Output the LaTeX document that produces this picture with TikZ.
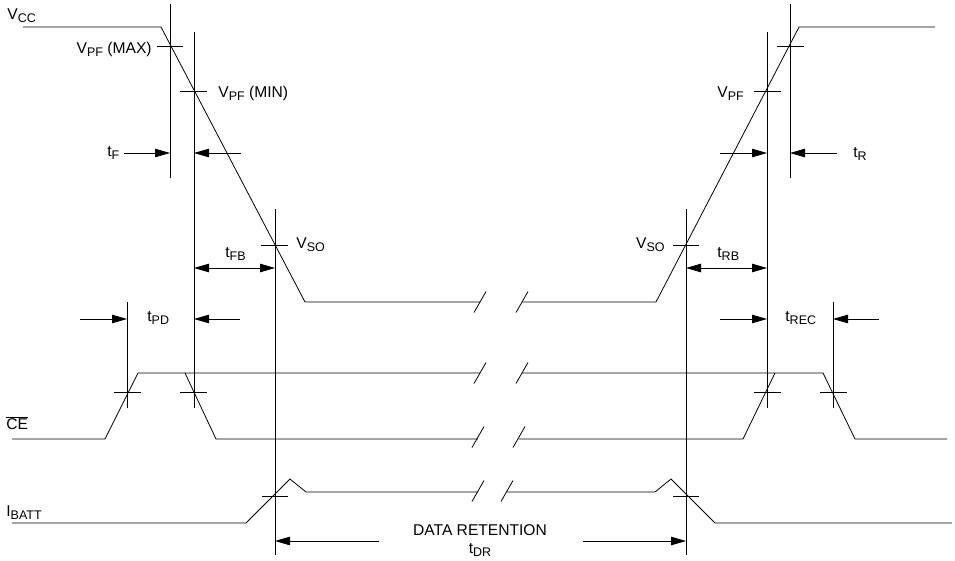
\documentclass[tikz,border=0pt]{standalone}
\usepackage{fontspec}
\setmainfont{Liberation Sans}
\usepackage{tikz}
\usetikzlibrary{arrows.meta, positioning}

\newcommand{\lsub}[2]{#1\raisebox{-3.5pt}{\fontsize{12.5}{13}\selectfont #2}}

\begin{document}
\begin{tikzpicture}[x=1pt, y=-1pt, line width=0.8pt,
  lbl/.style={inner sep=0pt, font=\fontsize{15.6}{17}\selectfont},
  dim/.style={-{Triangle[length=15pt, width=8.5pt]}},
  dimb/.style={{Triangle[length=15pt, width=8.5pt]}-{Triangle[length=15pt, width=8.5pt]}}]
  \useasboundingbox (0,0) rectangle (955,560);

  % waveforms
  \draw (23,27) -- (161,27) -- (305,302) -- (480,302);
  \draw (522,302) -- (656,302) -- (799,27) -- (935,27);
  \draw (12,439) -- (105,439) -- (138,373) -- (480,373);
  \draw (185,373) -- (216,439) -- (478,439);
  \draw (522,373) -- (823,373) -- (855,439) -- (947,439);
  \draw (519,439) -- (743,439) -- (775,373);
  \draw (12,523) -- (246,523) -- (290,479) -- (306,492) -- (478,492);
  \draw (507,492) -- (655,492) -- (671,479) -- (715,523) -- (952,523);

  % breaks
  \foreach \x/\y in {480/302, 522/302, 480/373, 522/373, 478/437, 519/437, 478/491, 507/491}
    \draw (\x-6,\y+10.5) -- (\x+6,\y-10.5);

  % guides
  \draw (170,4) -- (170,178);
  \draw (194,32) -- (194,408);
  \draw (127,302) -- (127,408);
  \draw (275,209) -- (275,555);
  \draw (686,209) -- (686,555);
  \draw (767,32) -- (767,408);
  \draw (790,4) -- (790,178);
  \draw (833,302) -- (833,408);

  % ticks
  \foreach \a/\b/\y in {157/183/46, 180/207/91, 261/288/245, 673/699/245,
      754/781/91, 777/804/46, 114/141/392, 180/207/392, 754/781/392,
      820/847/392, 262/288/496, 673/699/496}
    \draw (\a,\y) -- (\b,\y);

  % timings
  \draw[dim] (124,153) -- (170,153);
  \draw[dim] (241,153) -- (194,153);
  \draw[dim] (720,153) -- (767,153);
  \draw[dim] (837,153) -- (790,153);
  \draw[dimb] (194,268) -- (275,268);
  \draw[dimb] (686,268) -- (767,268);
  \draw[dim] (80,319) -- (127,319);
  \draw[dim] (240,319) -- (194,319);
  \draw[dim] (720,319) -- (767,319);
  \draw[dim] (879,319) -- (833,319);
  \draw[dim] (379,541) -- (275,541);
  \draw[dim] (583,541) -- (686,541);

  \node[lbl, anchor=base west] (vcc) at (7,19) {\lsub{V}{CC}};
  \node[lbl, anchor=base east] (vpfmax) at (152,53) {\lsub{V}{PF} (MAX)};
  \node[lbl, anchor=base west] (vpfmin) at (218,97) {\lsub{V}{PF} (MIN)};
  \node[lbl, anchor=base west] (vpf) at (717,97) {\lsub{V}{PF}};
  \node[lbl, anchor=base west] (tf) at (107,156) {\lsub{t}{F}};
  \node[lbl, anchor=base west] (tr) at (853,157) {\lsub{t}{R}};
  \node[lbl, anchor=base west] (vsol) at (296,248) {\lsub{V}{SO}};
  \node[lbl, anchor=base east] (vsor) at (665,248) {\lsub{V}{SO}};
  \node[lbl, anchor=base west] (tfb) at (225,257) {\lsub{t}{FB}};
  \node[lbl, anchor=base west] (trb) at (717,257) {\lsub{t}{RB}};
  \node[lbl, anchor=base west] (tpd) at (147,321) {\lsub{t}{PD}};
  \node[lbl, anchor=base west] (trec) at (785,321) {\lsub{t}{REC}};
  \node[lbl, anchor=base west] (ce) at (6,429) {$\overline{\mbox{CE}}$};
  \node[lbl, anchor=base west] (ibatt) at (6,516) {\lsub{I}{BATT}};
  \node[lbl, anchor=base] (dr) at (480,535) {DATA RETENTION};
  \node[lbl, anchor=base] (tdr) at (480,553) {\lsub{t}{DR}};
\end{tikzpicture}
\end{document}
